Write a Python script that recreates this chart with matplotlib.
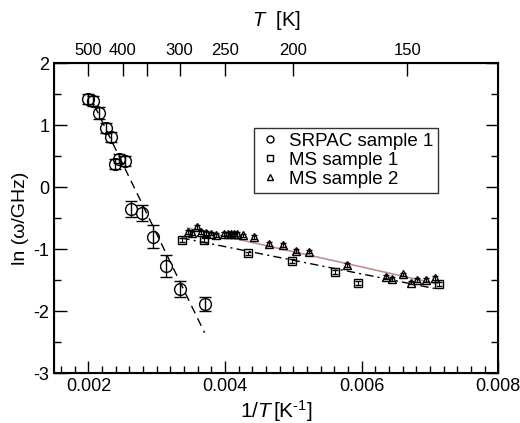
import numpy as np
import matplotlib
matplotlib.use("Agg")
import matplotlib.pyplot as plt
from matplotlib.lines import Line2D

plt.rcParams['font.family'] = ['Liberation Sans', 'DejaVu Sans']
plt.rcParams['mathtext.fontset'] = 'custom'
plt.rcParams['mathtext.rm'] = 'Liberation Sans'
plt.rcParams['mathtext.it'] = 'Liberation Sans:italic'
plt.rcParams['axes.unicode_minus'] = False

# SRPAC sample 1 (circles with error bars)
srpac_x = [0.00200, 0.00207, 0.00216, 0.00225, 0.00233, 0.00239, 0.00245,
           0.00254, 0.00263, 0.00278, 0.00295, 0.00313, 0.00334, 0.00370]
srpac_y = [1.42, 1.39, 1.19, 0.95, 0.80, 0.37, 0.46,
           0.42, -0.35, -0.42, -0.80, -1.27, -1.65, -1.89]
srpac_err = [0.08, 0.08, 0.10, 0.08, 0.08, 0.08, 0.08,
             0.08, 0.13, 0.13, 0.19, 0.18, 0.13, 0.11]

# MS sample 1 (squares)
ms1_x = [0.00337, 0.00369, 0.00433, 0.00498, 0.00561, 0.00594, 0.00713]
ms1_y = [-0.85, -0.85, -1.07, -1.19, -1.37, -1.55, -1.56]

# MS sample 2 (triangles)
ms2_x = [0.00346, 0.00352, 0.00359, 0.00365, 0.00372, 0.00380, 0.00387,
         0.00399, 0.00404, 0.00409, 0.00413, 0.00418, 0.00426, 0.00443,
         0.00465, 0.00485, 0.00504, 0.00523, 0.00579, 0.00636, 0.00645,
         0.00660, 0.00672, 0.00681, 0.00694, 0.00707]
ms2_y = [-0.72, -0.74, -0.65, -0.72, -0.74, -0.75, -0.77,
         -0.76, -0.76, -0.76, -0.76, -0.76, -0.78, -0.80,
         -0.92, -0.94, -1.03, -1.04, -1.26, -1.45, -1.48,
         -1.41, -1.54, -1.50, -1.50, -1.47]

# fit lines
fit_srpac_x = [0.00209, 0.00370]
fit_srpac_y = [1.31, -2.35]
fit_ms1_x = [0.00336, 0.00713]
fit_ms1_y = [-0.82, -1.65]
fit_ms2_x = [0.00345, 0.00710]
fit_ms2_y = [-0.66, -1.56]

# top axis temperatures
top_T = [500, 400, 350, 300, 250, 200, 150]
top_labels = ['500', '400', '', '300', '250', '200', '150']

fig = plt.figure(figsize=(5.2, 4.23), dpi=100)
ax = fig.add_axes([0.1044, 0.118, 0.854, 0.733])

ax.plot(fit_srpac_x, fit_srpac_y, color='black', lw=1.0, dashes=(6, 4))
ax.plot(fit_ms1_x, fit_ms1_y, color='black', lw=1.0, dashes=(6, 3, 1.5, 3))
ax.plot(fit_ms2_x, fit_ms2_y, color='#c09090', lw=1.2)

ax.errorbar(srpac_x, srpac_y, yerr=srpac_err, fmt='o', ms=8.5, mfc='none',
            mec='black', mew=1.0, ecolor='black', elinewidth=1.0, capsize=4.5,
            capthick=1.0)
ax.errorbar(ms1_x, ms1_y, yerr=0.03, fmt='s', ms=5.5, mfc='none',
            mec='black', mew=1.0, ecolor='black', elinewidth=0.8, capsize=2.5,
            capthick=0.8)
ax.errorbar(ms2_x, ms2_y, yerr=0.03, fmt='^', ms=6, mfc='none',
            mec='black', mew=1.0, ecolor='black', elinewidth=0.8, capsize=2.5,
            capthick=0.8)

ax.set_xlim(0.0015, 0.008)
ax.set_ylim(-3, 2)
ax.set_xticks([0.002, 0.004, 0.006, 0.008])
ax.set_xticklabels(['0.002', '0.004', '0.006', '0.008'])
ax.set_xticks(np.arange(0.0016, 0.0080, 0.0002), minor=True)
ax.set_yticks([-3, -2, -1, 0, 1, 2])
ax.set_yticks([-2.5, -1.5, -0.5, 0.5, 1.5], minor=True)
ax.tick_params(which='both', direction='in', right=True, labelsize=13,
               width=1.0)
ax.tick_params(which='major', length=9)
ax.tick_params(which='minor', length=5)
for s in ax.spines.values():
    s.set_linewidth(1.5)

ax.set_xlabel(r'1/$T\,$[K$^{\text{-}1}$]', fontsize=15, labelpad=2)
ax.set_ylabel('ln (ω/GHz)', fontsize=14, labelpad=3)

top = ax.twiny()
top.set_xlim(ax.get_xlim())
top.set_xticks([1.0 / t for t in top_T])
top.set_xticklabels(top_labels)
top.tick_params(direction='in', length=9, width=1.0, labelsize=12)
top.set_xlabel(r'$T$  [K]', fontsize=14.5, labelpad=12)

handles = [
    Line2D([], [], ls='none', marker='o', ms=5, mfc='none', mec='black', mew=1.0),
    Line2D([], [], ls='none', marker='s', ms=4.5, mfc='none', mec='black', mew=1.0),
    Line2D([], [], ls='none', marker='^', ms=5, mfc='none', mec='black', mew=1.0),
]
labels = ['SRPAC sample 1', 'MS sample 1', 'MS sample 2']
leg = ax.legend(handles, labels, loc='upper left', bbox_to_anchor=(0.45, 0.79),
                fontsize=13.5, frameon=True, fancybox=False, edgecolor='black',
                handletextpad=0.4, borderpad=0.25, labelspacing=0.1,
                handlelength=1.2, borderaxespad=0)
leg.get_frame().set_linewidth(1.0)

fig.savefig('out.png', dpi=100)
